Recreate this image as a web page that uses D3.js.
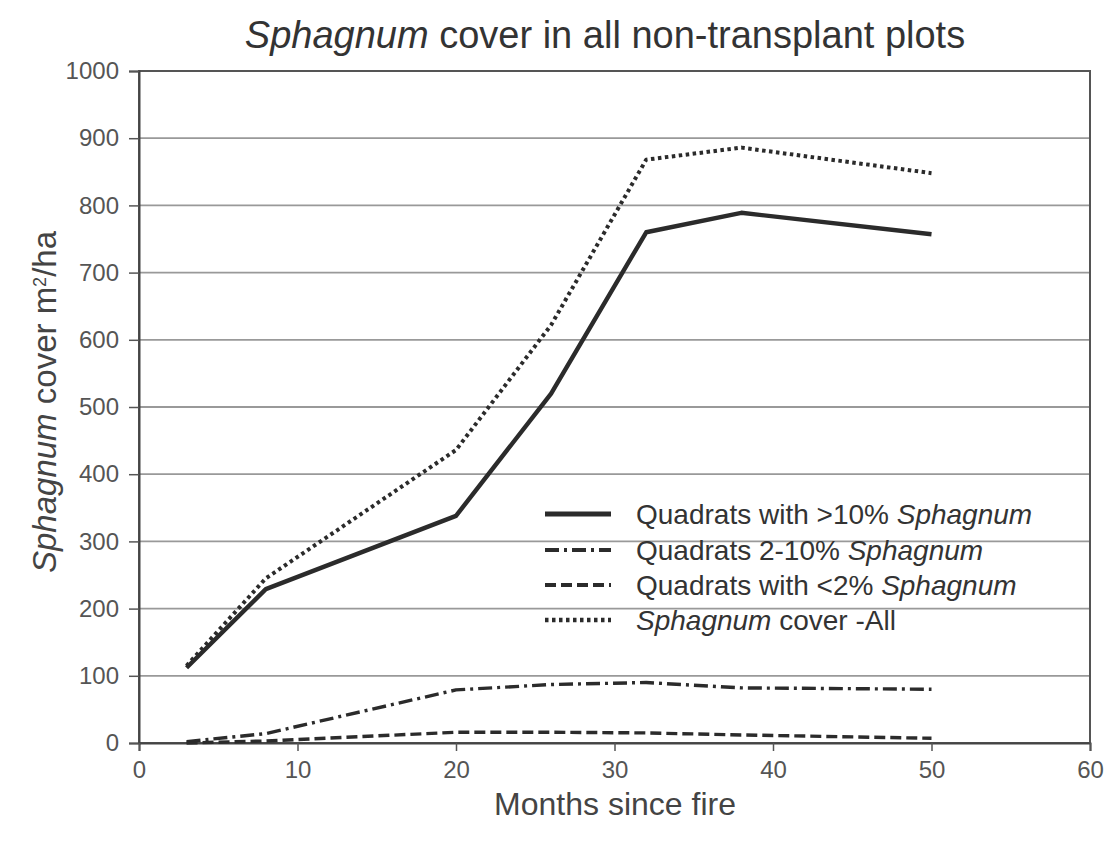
<!DOCTYPE html>
<html>
<head>
<meta charset="utf-8">
<script src="https://cdn.jsdelivr.net/npm/d3@7/dist/d3.min.js"></script>
<style>
  html, body { margin: 0; padding: 0; background: #fff; }
  svg { display: block; font-family: "Liberation Sans", Arial, sans-serif; }
</style>
</head>
<body>
<svg id="chart" width="1106" height="841"></svg>
<script>
// Months since fire at each survey
const months = [3, 8, 20, 26, 32, 38, 50];

// Sphagnum cover (m²/ha) per quadrat class
const coverHigh = [112, 229, 338, 520, 760, 789, 757];   // >10% Sphagnum
const coverMid  = [2, 14, 79, 87, 90, 82, 80];            // 2-10% Sphagnum
const coverLow  = [0, 3, 16, 16, 15, 12, 7];              // <2% Sphagnum
const coverAll  = [115, 245, 436, 622, 868, 886, 848];    // all quadrats

const xTicks = [0, 10, 20, 30, 40, 50, 60];
const yTicks = [0, 100, 200, 300, 400, 500, 600, 700, 800, 900, 1000];

const seriesNames = [
  ["Quadrats with >10% ", "Sphagnum", ""],
  ["Quadrats 2-10% ", "Sphagnum", ""],
  ["Quadrats with <2% ", "Sphagnum", ""],
  ["", "Sphagnum", " cover -All"]
];

const svg = d3.select("#chart");
const plot = { left: 139, right: 1090, top: 71, bottom: 743 };

const x = d3.scaleLinear().domain([0, 60]).range([plot.left, plot.right]);
const y = d3.scaleLinear().domain([0, 1000]).range([plot.bottom, plot.top]);

// horizontal gridlines
svg.append("g")
  .selectAll("line")
  .data(yTicks.slice(1, -1))
  .join("line")
  .attr("x1", plot.left).attr("x2", plot.right)
  .attr("y1", d => y(d)).attr("y2", d => y(d))
  .attr("stroke", "#999").attr("stroke-width", 1.8);

// plot frame
svg.append("rect")
  .attr("x", plot.left).attr("y", plot.top)
  .attr("width", plot.right - plot.left).attr("height", plot.bottom - plot.top)
  .attr("fill", "none").attr("stroke", "#555").attr("stroke-width", 2);

// axes
const yAxis = svg.append("g")
  .attr("transform", `translate(${plot.left},0)`)
  .call(d3.axisLeft(y).tickValues(yTicks).tickFormat(d3.format("d"))
    .tickSize(10).tickPadding(10));
const xAxis = svg.append("g")
  .attr("transform", `translate(0,${plot.bottom})`)
  .call(d3.axisBottom(x).tickValues(xTicks).tickFormat(d3.format("d"))
    .tickSize(8).tickPadding(10));

[yAxis, xAxis].forEach(g => {
  g.select(".domain").attr("stroke", "#444").attr("stroke-width", 2);
  g.selectAll(".tick line").attr("stroke", "#555").attr("stroke-width", 1.5);
  g.selectAll(".tick text")
    .attr("fill", "#555")
    .style("font-size", "24px")
    .style("font-family", "'Liberation Sans', Arial, sans-serif");
});

// series
const line = d3.line()
  .x(d => x(d[0]))
  .y(d => y(d[1]));

const styles = [
  { values: coverHigh, width: 4.4, dash: null },
  { values: coverMid, width: 3.4, dash: "14 5 3 5" },
  { values: coverLow, width: 3.4, dash: "11 5" },
  { values: coverAll, width: 4, dash: "3.5 3.5" }
];

styles.forEach(s => {
  svg.append("path")
    .datum(months.map((m, i) => [m, s.values[i]]))
    .attr("d", line)
    .attr("fill", "none")
    .attr("stroke", "#2b2b2b")
    .attr("stroke-width", s.width)
    .attr("stroke-linejoin", "round")
    .attr("stroke-dasharray", s.dash);
});

// legend
const legend = svg.append("g");
const rowY = [514, 550, 585, 620];
styles.forEach((s, i) => {
  legend.append("line")
    .attr("x1", 545).attr("x2", 611)
    .attr("y1", rowY[i]).attr("y2", rowY[i])
    .attr("stroke", "#2b2b2b")
    .attr("stroke-width", s.width + 0.6)
    .attr("stroke-dasharray", s.dash);
  const t = legend.append("text")
    .attr("x", 636).attr("y", rowY[i])
    .attr("dy", "0.35em")
    .attr("fill", "#333")
    .style("font-size", "28px");
  const [pre, ital, post] = seriesNames[i];
  if (pre) t.append("tspan").text(pre);
  t.append("tspan").attr("font-style", "italic").text(ital);
  if (post) t.append("tspan").text(post);
});

// title
const title = svg.append("text")
  .attr("x", 605).attr("y", 48)
  .attr("text-anchor", "middle")
  .attr("fill", "#333")
  .style("font-size", "38px");
title.append("tspan").attr("font-style", "italic").text("Sphagnum");
title.append("tspan").text(" cover in all non-transplant plots");

// axis titles
svg.append("text")
  .attr("x", 615).attr("y", 815)
  .attr("text-anchor", "middle")
  .attr("fill", "#444")
  .style("font-size", "32px")
  .text("Months since fire");

const yTitle = svg.append("text")
  .attr("transform", "translate(56,402) rotate(-90)")
  .attr("text-anchor", "middle")
  .attr("fill", "#444")
  .style("font-size", "33px");
yTitle.append("tspan").attr("font-style", "italic").text("Sphagnum");
yTitle.append("tspan").text(" cover m");
yTitle.append("tspan").attr("baseline-shift", "super").style("font-size", "18px").text("2");
yTitle.append("tspan").text("/ha");
</script>
</body>
</html>
